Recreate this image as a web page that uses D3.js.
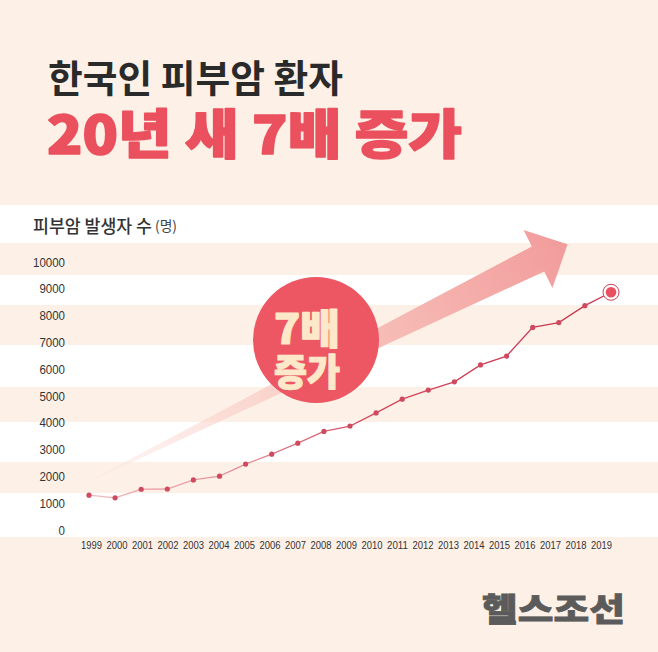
<!DOCTYPE html>
<html><head><meta charset="utf-8">
<script src="https://cdn.jsdelivr.net/npm/d3@7"></script>
<style>
html,body{margin:0;padding:0;background:#fdf1e7;}
svg{display:block;}
</style></head>
<body>
<script>
// ---- data ----
const years = ["1999","2000","2001","2002","2003","2004","2005","2006","2007","2008","2009","2010","2011","2012","2013","2014","2015","2016","2017","2018","2019"];
const patients = [1300,1200,1520,1530,1870,2010,2460,2830,3240,3680,3880,4370,4880,5220,5530,6160,6490,7560,7740,8370,8870];
const yTicks = [0,1000,2000,3000,4000,5000,6000,7000,8000,9000,10000];
const titleLine1 = "한국인 피부암 환자";
const titleLine2 = "20년 새 7배 증가";
const axisTitle = "피부암 발생자 수";
const axisUnit = "(명)";
const badge = ["7배","증가"];
const brand = "헬스조선";

// ---- layout ----
const W = 658, H = 652;
const cream = "#fdf1e7";
const red = "#ea505d";
const whiteBands = [[205,243],[275,305],[345,387],[422,462],[493,537]];

const svg = d3.select("body").append("svg").attr("width", W).attr("height", H);
svg.append("rect").attr("width", W).attr("height", H).attr("fill", cream);
svg.selectAll("rect.band").data(whiteBands).join("rect").attr("class","band")
  .attr("x",0).attr("width",W).attr("y",d=>d[0]).attr("height",d=>d[1]-d[0]).attr("fill","#ffffff");

const y = d3.scaleLinear().domain([0,10000]).range([530,262]);
const x = d3.scalePoint().domain(years).range([89,611]);
const xLab = d3.scalePoint().domain(years).range([91,601]);

const defs = svg.append("defs");

// titles
const kr = "'Noto Sans CJK KR','Noto Sans CJK SC',sans-serif";
svg.append("text").attr("x",48).attr("y",75).attr("dominant-baseline","central")
  .attr("font-family",kr).attr("font-weight",700).attr("font-size",38).attr("fill","#2a2a2a")
  .attr("textLength",295).attr("lengthAdjust","spacingAndGlyphs").text(titleLine1);
svg.append("text").attr("x",47).attr("y",131).attr("dominant-baseline","central")
  .attr("font-family",kr).attr("font-weight",900).attr("font-size",53).attr("fill",red)
  .attr("stroke",red).attr("stroke-width",1.6).attr("stroke-linejoin","round")
  .attr("textLength",415).attr("lengthAdjust","spacingAndGlyphs").text(titleLine2);

// axis title
svg.append("text").attr("x",33).attr("y",225).attr("dominant-baseline","central")
  .attr("font-family",kr).attr("font-weight",500).attr("font-size",18).attr("fill","#333")
  .attr("textLength",119).attr("lengthAdjust","spacingAndGlyphs").text(axisTitle);
svg.append("text").attr("x",155).attr("y",225).attr("dominant-baseline","central")
  .attr("font-family",kr).attr("font-weight",400).attr("font-size",14).attr("fill","#444")
  .attr("textLength",22).attr("lengthAdjust","spacingAndGlyphs").text(axisUnit);

// y axis
const yAxis = d3.axisLeft(y).tickValues(yTicks).tickSize(0).tickPadding(0).tickFormat(d=>String(d));
const gy = svg.append("g").attr("transform","translate(65,0)").call(yAxis);
gy.select(".domain").remove();
gy.selectAll("text").attr("font-family","'Liberation Sans',Arial,sans-serif")
  .attr("font-size",13).attr("fill","#333")
  .attr("textLength",d=>String(d).length*6.4).attr("lengthAdjust","spacingAndGlyphs");

// x axis
const xAxis = d3.axisBottom(xLab).tickSize(0).tickPadding(0);
const gx = svg.append("g").attr("transform","translate(0,541)").call(xAxis);
gx.select(".domain").remove();
gx.selectAll("text").attr("font-family","'Liberation Sans',Arial,sans-serif")
  .attr("font-size",11.5).attr("fill","#333")
  .attr("textLength",21).attr("lengthAdjust","spacingAndGlyphs");

// arrow (tapered wedge with head)
const T = [92,480], M = [538,259];
const dx = M[0]-T[0], dy = M[1]-T[1], L = Math.hypot(dx,dy);
const u = [dx/L, dy/L], n = [-u[1], u[0]];
const hw = 14, bw = 32.5, hl = 33;
const P = (p,a,b)=>[p[0]+a*u[0]+b*n[0], p[1]+a*u[1]+b*n[1]];
const arrowPts = [P(T,0,0.6), P(M,0,hw), P(M,0,bw), P(M,hl,0), P(M,0,-bw), P(M,0,-hw), P(T,0,-0.6)];
const ag = defs.append("linearGradient").attr("id","ag").attr("gradientUnits","userSpaceOnUse")
  .attr("x1",T[0]).attr("y1",T[1]).attr("x2",M[0]+hl*u[0]).attr("y2",M[1]+hl*u[1]);
ag.append("stop").attr("offset",0).attr("stop-color","#fbe2dd").attr("stop-opacity",0.3);
ag.append("stop").attr("offset",0.55).attr("stop-color","#f7c1ba").attr("stop-opacity",1);
ag.append("stop").attr("offset",1).attr("stop-color","#f29c9c").attr("stop-opacity",1);
svg.append("path").attr("d", d3.line()(arrowPts)+"Z").attr("fill","url(#ag)");

// badge
svg.append("circle").attr("cx",316).attr("cy",340).attr("r",63).attr("fill","#ec5763");
badge.forEach((t,i)=>{
  svg.append("text").attr("x",307).attr("y",i===0?326:370).attr("text-anchor","middle").attr("dominant-baseline","central")
    .attr("font-family",kr).attr("font-weight",900).attr("font-size",i===0?41:37).attr("fill","#fde8c9")
    .attr("stroke","#fde8c9").attr("stroke-width",1.2).attr("stroke-linejoin","round")
    .attr("textLength",66).attr("lengthAdjust","spacingAndGlyphs").text(t);
});

// data line
const lg = defs.append("linearGradient").attr("id","lg").attr("gradientUnits","userSpaceOnUse")
  .attr("x1",x(years[0])).attr("y1",0).attr("x2",x(years[years.length-1])).attr("y2",0);
lg.append("stop").attr("offset",0).attr("stop-color","#f1bcbc");
lg.append("stop").attr("offset",0.3).attr("stop-color","#e58a93");
lg.append("stop").attr("offset",0.55).attr("stop-color","#d2465b");
lg.append("stop").attr("offset",1).attr("stop-color","#c8344c");
const data = years.map((yr,i)=>({yr, v: patients[i]}));
svg.append("path").datum(data)
  .attr("d", d3.line().x(d=>x(d.yr)).y(d=>y(d.v)))
  .attr("fill","none").attr("stroke","url(#lg)").attr("stroke-width",1.3);
svg.selectAll("circle.pt").data(data.slice(0,-1)).join("circle").attr("class","pt")
  .attr("cx",d=>x(d.yr)).attr("cy",d=>y(d.v)).attr("r",2.6).attr("fill","#d04a5f");
const last = data[data.length-1];
svg.append("circle").attr("cx",x(last.yr)).attr("cy",y(last.v)).attr("r",8).attr("fill","#fff").attr("stroke","#c84256").attr("stroke-width",1);
svg.append("circle").attr("cx",x(last.yr)).attr("cy",y(last.v)).attr("r",5.3).attr("fill","#ea4f5f");

// brand
svg.append("text").attr("x",482).attr("y",607).attr("dominant-baseline","central")
  .attr("font-family",kr).attr("font-weight",900).attr("font-size",32).attr("fill","#5b5b5b")
  .attr("stroke","#5b5b5b").attr("stroke-width",0.8)
  .attr("textLength",143).attr("lengthAdjust","spacingAndGlyphs").text(brand);
</script>
</body></html>
